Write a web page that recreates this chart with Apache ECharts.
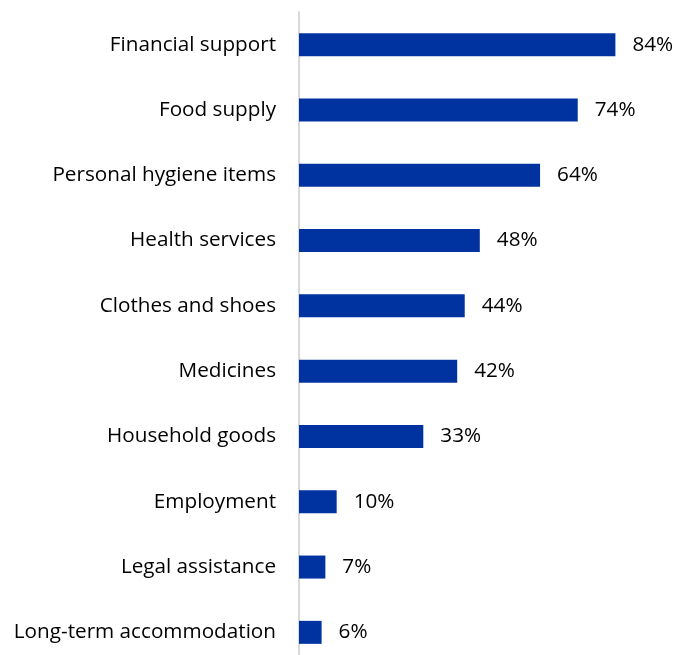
<!DOCTYPE html>
<html>
<head>
<meta charset="utf-8">
<script src="https://cdn.jsdelivr.net/npm/echarts@6/dist/echarts.min.js"></script>
<style>
  html, body { margin: 0; padding: 0; background: #fff; }
  #chart { width: 674px; height: 655px; }
</style>
</head>
<body>
<div id="chart"></div>
<script>
// Support needs, share of respondents (%), top to bottom
const categories = [
  'Financial support',
  'Food supply',
  'Personal hygiene items',
  'Health services',
  'Clothes and shoes',
  'Medicines',
  'Household goods',
  'Employment',
  'Legal assistance',
  'Long-term accommodation'
];
const values = [84, 74, 64, 48, 44, 42, 33, 10, 7, 6];

const font = '"Open Sans", Lato, sans-serif';
const chart = echarts.init(document.getElementById('chart'));

chart.setOption({
  animation: false,
  grid: {
    left: 299, top: 12, width: 339, height: 653,
    containLabel: false,
    outerBoundsMode: 'none'
  },
  xAxis: {
    type: 'value',
    min: 0,
    max: 90,
    show: false
  },
  yAxis: {
    type: 'category',
    inverse: true,
    data: categories,
    axisLine: { show: true, lineStyle: { color: '#d9d9d9', width: 2 } },
    axisTick: { show: false },
    axisLabel: { margin: 23, color: '#000', fontSize: 20.7, fontFamily: font }
  },
  series: [{
    type: 'bar',
    data: values,
    barWidth: 23,
    itemStyle: { color: '#0033a0' },
    label: {
      show: true,
      position: 'right',
      distance: 17,
      formatter: p => p.value + '%',
      color: '#000',
      fontSize: 20.7,
      fontFamily: font
    }
  }]
});
</script>
</body>
</html>
